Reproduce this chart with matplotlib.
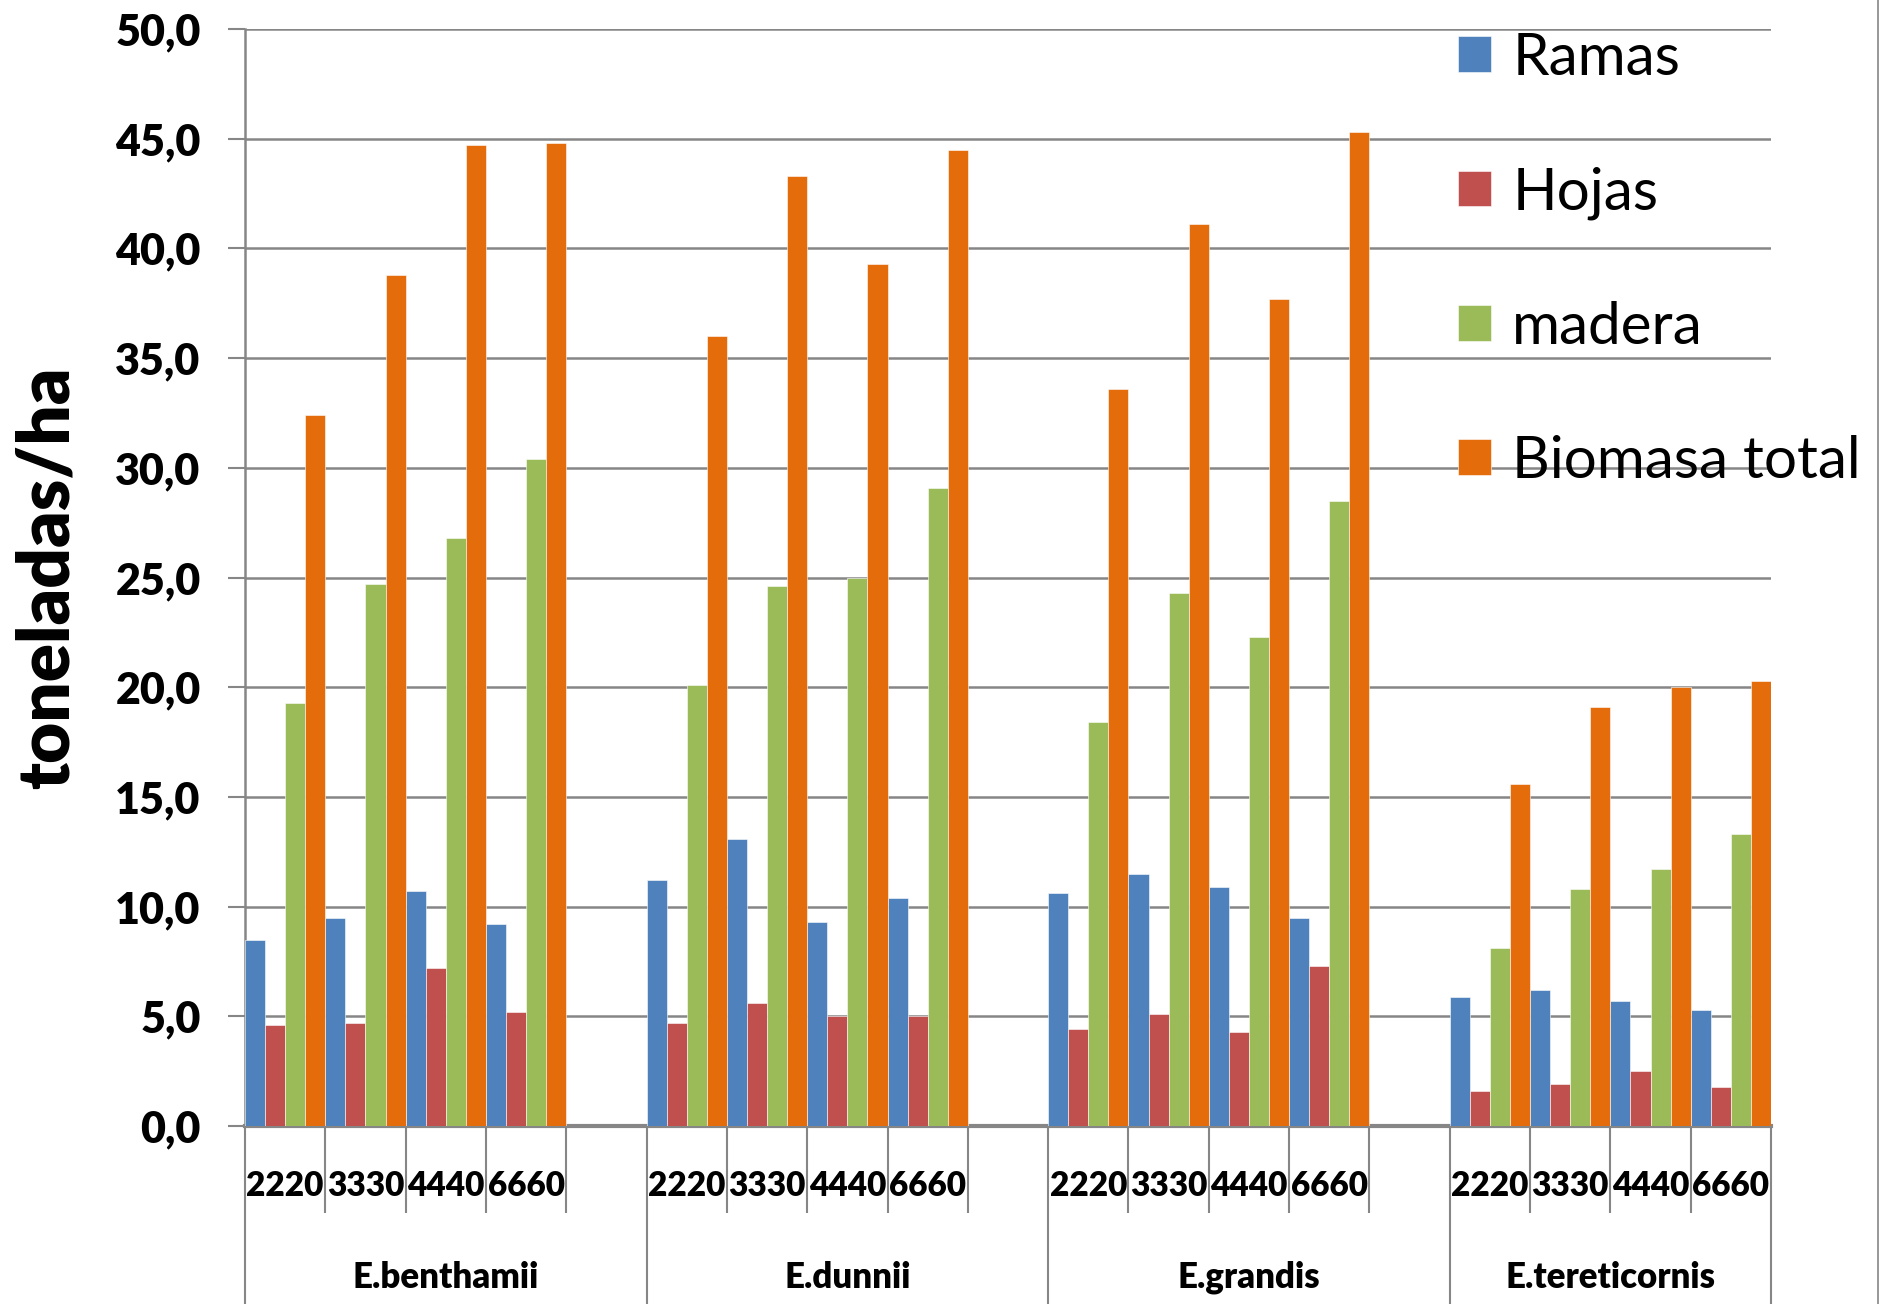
import matplotlib
matplotlib.use("Agg")
import matplotlib.pyplot as plt
import numpy as np

especies = ["E.benthamii", "E.dunnii", "E.grandis", "E.tereticornis"]
densidades = ["2220", "3330", "4440", "6660"]

# one value per species x density, in reading order
ramas = [8.5, 9.5, 10.7, 9.2,
         11.2, 13.1, 9.3, 10.4,
         10.6, 11.5, 10.9, 9.5,
         5.9, 6.2, 5.7, 5.3]
hojas = [4.6, 4.7, 7.2, 5.2,
         4.7, 5.6, 5.0, 5.0,
         4.4, 5.1, 4.3, 7.3,
         1.6, 1.9, 2.5, 1.8]
madera = [19.3, 24.7, 26.8, 30.4,
          20.1, 24.6, 25.0, 29.1,
          18.4, 24.3, 22.3, 28.5,
          8.1, 10.8, 11.7, 13.3]
biomasa = [32.4, 38.8, 44.7, 44.8,
           36.0, 43.3, 39.3, 44.5,
           33.6, 41.1, 37.7, 45.3,
           15.6, 19.1, 20.0, 20.3]

series = ["Ramas", "Hojas", "madera", "Biomasa total"]
colores = ["#4F81BD", "#C0504D", "#9BBB59", "#E46C0A"]

plt.rcParams['font.family'] = ['Lato', 'DejaVu Sans']

W, H = 1879, 1304
fig = plt.figure(figsize=(W / 100, H / 100), dpi=100)
ax = fig.add_axes([245 / W, 1 - 1126 / H, (1771 - 245) / W, (1126 - 29) / H])

# slots: 4 densities + one blank slot between species
slot = np.array([g * 5 + d for g in range(len(especies)) for d in range(len(densidades))])
n_slots = 5 * len(especies) - 1
bw = 0.25
for k, (vals, nombre, col) in enumerate(zip([ramas, hojas, madera, biomasa], series, colores)):
    ax.bar(slot + bw * (k + 0.5), vals, width=bw, color=col, label=nombre,
           edgecolor="white", linewidth=0.4, zorder=3)

ax.set_xlim(0, n_slots)
ax.set_ylim(0, 50)
ticks = np.arange(0, 51, 5)
ax.set_yticks(ticks)
ax.set_yticklabels([f"{t:.1f}".replace(".", ",") for t in ticks],
                   fontsize=31, fontweight="heavy")
ax.tick_params(axis="y", length=12, width=1.5, color="#868686", pad=20, direction="out")
ax.set_xticks([])
ax.grid(axis="y", color="#868686", linewidth=1.8, zorder=0)

for s in ["top", "right"]:
    ax.spines[s].set_visible(False)
ax.spines["left"].set_color("#868686")
ax.spines["left"].set_linewidth(1.8)
ax.spines["bottom"].set_color("#868686")
ax.spines["bottom"].set_linewidth(3)

# category axis: separators and two-level labels
tr = ax.get_xaxis_transform()
ax_h = 1126 - 29
bordes_grupo = [0, 5, 10, 15, n_slots]
cortos = [b for b in range(n_slots + 1) if b not in bordes_grupo]
ax.vlines(cortos, 0, -(1213 - 1126) / ax_h, transform=tr, color="#868686",
          linewidth=1.5, clip_on=False)
ax.vlines(bordes_grupo, 0, -(H - 1126) / ax_h, transform=tr, color="#868686",
          linewidth=1.5, clip_on=False)

for s, d in zip(slot, densidades * len(especies)):
    ax.text(s + 0.5, -(1186 - 1126) / ax_h, d, transform=tr, ha="center", va="center",
            fontsize=24, fontweight="heavy")
for g, nombre in enumerate(especies):
    centro = (bordes_grupo[g] + bordes_grupo[g + 1]) / 2
    ax.text(centro, -(1277 - 1126) / ax_h, nombre, transform=tr, ha="center",
            va="center", fontsize=25, fontweight="heavy")

fig.text(48 / W, 1 - 578 / H, "toneladas/ha", rotation=90, ha="center", va="center",
         fontsize=51, fontweight="heavy")

fig.legend(loc="upper left", bbox_to_anchor=(1458 / W, 1 - 32 / H), frameon=False,
           fontsize=42, handlelength=0.57, handleheight=0.57, handletextpad=0.36,
           labelspacing=1.39, borderpad=0, borderaxespad=0)

fig.add_artist(plt.Line2D([1 - 1.5 / W] * 2, [0, 1], color="#868686", linewidth=1.2))

fig.savefig("out.png", dpi=100)
